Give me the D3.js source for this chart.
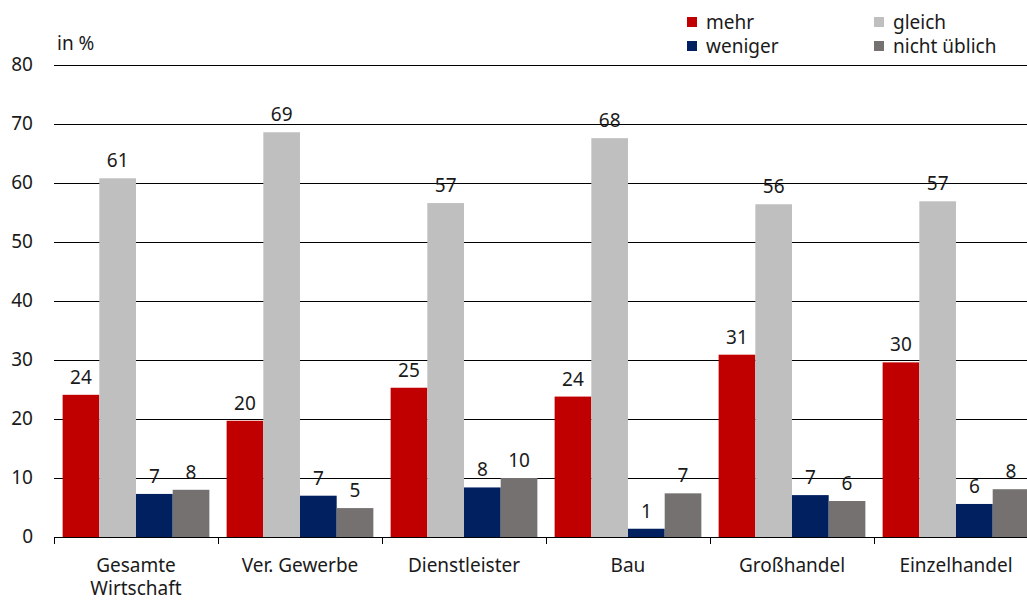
<!DOCTYPE html>
<html lang="de">
<head>
<meta charset="utf-8">
<title>Balkendiagramm</title>
<script src="https://d3js.org/d3.v7.min.js"></script>
<style>
  body { margin: 0; background: #fff; }
  svg { display: block; font-family: "Source Sans Pro", "Noto Sans", sans-serif; }
</style>
</head>
<body>
<script>
// data
const categories = ["Gesamte Wirtschaft", "Ver. Gewerbe", "Dienstleister", "Bau", "Großhandel", "Einzelhandel"];
const seriesNames = ["mehr", "gleich", "weniger", "nicht üblich"];
const mehr         = [24.1, 19.7, 25.3, 23.8, 30.9, 29.6];
const gleich       = [60.8, 68.6, 56.6, 67.6, 56.4, 56.9];
const weniger      = [7.3, 7.0, 8.4, 1.4, 7.1, 5.6];
const nichtUeblich = [8.0, 4.9, 10.0, 7.4, 6.1, 8.1];
const yTicks = [0, 10, 20, 30, 40, 50, 60, 70, 80];

const colors = ["#C00000", "#BFBFBF", "#002060", "#767171"];
const values = [mehr, gleich, weniger, nichtUeblich];

const width = 1027, height = 601;
const left = 54, right = 1038; // last group runs past the edge, like the original
const yBottom = 537, yTop = 65;
const fs = "19px";

const svg = d3.select("body").append("svg")
  .attr("width", width).attr("height", height);

const x = d3.scaleBand().domain(categories).range([left, right]);
const xs = d3.scaleBand().domain(seriesNames).range([0, x.bandwidth()]).paddingOuter(0.235);
const y = d3.scaleLinear().domain([0, 80]).range([yBottom, yTop]);

// gridlines + tick labels
svg.append("g").selectAll("line")
  .data(yTicks.filter(t => t > 0))
  .enter().append("line")
  .attr("x1", left).attr("x2", width)
  .attr("y1", d => Math.round(y(d)) + 0.5).attr("y2", d => Math.round(y(d)) + 0.5)
  .attr("stroke", "#000").attr("stroke-width", 1);

svg.append("g").selectAll("text")
  .data(yTicks)
  .enter().append("text")
  .attr("x", 33).attr("y", d => y(d) + 6)
  .attr("text-anchor", "end")
  .style("font-size", fs).attr("fill", "#1a1a1a")
  .text(d => d);

svg.append("text").attr("x", 57).attr("y", 50)
  .style("font-size", fs).attr("fill", "#1a1a1a").text("in %");

// bars
const groups = svg.append("g").selectAll("g")
  .data(categories)
  .enter().append("g")
  .attr("transform", d => "translate(" + x(d) + ",0)");

groups.each(function(cat, i) {
  const g = d3.select(this);
  const rows = seriesNames.map((s, k) => ({ s: s, v: values[k][i], c: colors[k] }));
  g.selectAll("rect").data(rows).enter().append("rect")
    .attr("x", d => xs(d.s))
    .attr("y", d => y(d.v))
    .attr("width", xs.bandwidth())
    .attr("height", d => yBottom - y(d.v))
    .attr("fill", d => d.c);
  g.selectAll("text").data(rows).enter().append("text")
    .attr("x", d => xs(d.s) + xs.bandwidth() / 2)
    .attr("y", d => y(d.v) - 11)
    .attr("text-anchor", "middle")
    .style("font-size", fs).attr("fill", "#1a1a1a")
    .text(d => Math.round(d.v));
});

// x axis line + ticks between categories
svg.append("line")
  .attr("x1", left).attr("x2", width)
  .attr("y1", yBottom + 0.5).attr("y2", yBottom + 0.5)
  .attr("stroke", "#000").attr("stroke-width", 1);

svg.append("g").selectAll("line")
  .data(categories)
  .enter().append("line")
  .attr("x1", d => Math.round(x(d)) + 0.5).attr("x2", d => Math.round(x(d)) + 0.5)
  .attr("y1", yBottom).attr("y2", yBottom + 7)
  .attr("stroke", "#000");

const catLabels = svg.append("g").selectAll("text")
  .data(categories)
  .enter().append("text")
  .attr("x", d => x(d) + x.bandwidth() / 2)
  .attr("y", 572)
  .attr("text-anchor", "middle")
  .style("font-size", fs).attr("fill", "#1a1a1a");

catLabels.each(function(d) {
  const t = d3.select(this);
  const parts = d === "Gesamte Wirtschaft" ? ["Gesamte", "Wirtschaft"] : [d];
  parts.forEach((p, k) => {
    t.append("tspan").attr("x", x(d) + x.bandwidth() / 2).attr("dy", k === 0 ? 0 : 23).text(p);
  });
});

// legend
const legendPos = [[687, 29], [874, 29], [687, 53], [874, 53]];
const legend = svg.append("g").selectAll("g")
  .data([0, 1, 2, 3])
  .enter().append("g")
  .attr("transform", (d, i) => "translate(" + legendPos[i][0] + "," + legendPos[i][1] + ")");
legend.append("rect").attr("x", 0).attr("y", -12).attr("width", 10).attr("height", 10)
  .attr("fill", d => colors[d]);
legend.append("text").attr("x", 19).attr("y", 0)
  .style("font-size", fs).attr("fill", "#1a1a1a")
  .text(d => seriesNames[d]);
</script>
</body>
</html>
